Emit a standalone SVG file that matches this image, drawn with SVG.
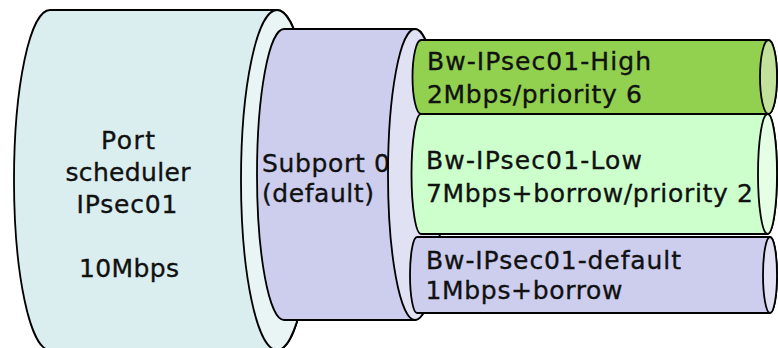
<svg xmlns="http://www.w3.org/2000/svg" width="778" height="348" viewBox="0 0 778 348">
  <style>
    .edge { stroke: #000; stroke-width: 1.8; stroke-linejoin: round; }
    .lbl { font-family: "DejaVu Sans", Verdana, sans-serif; font-size: 25px; fill: #111; stroke: #111; stroke-width: 0.35; }
    .mid { text-anchor: middle; }
    .port-body { fill: #DAEDEF; }
    .port-cap { fill: #E8F5F4; }
    .sub-body { fill: #CDCDED; }
    .sub-cap { fill: #E1E1F4; }
    .high-body { fill: #92D050; }
    .high-cap { fill: #C2E19A; }
    .low-body { fill: #CCFFCC; }
    .low-cap { fill: #E5FFE5; }
    .def-body { fill: #CDCDED; }
    .def-cap { fill: #E1E1F4; }
  </style>

  <!-- Port scheduler: large horizontal cylinder -->
  <g id="port">
    <path class="edge port-body" d="M50,10 L277,10 A36,170 0 0 1 277,350 L50,350 A36,170 0 0 1 50,10 Z"/>
    <ellipse class="edge port-cap" cx="277" cy="180" rx="36" ry="170"/>
    <text class="lbl mid" x="128" y="149" textLength="54" lengthAdjust="spacing">Port</text>
    <text class="lbl mid" x="128" y="181" textLength="125" lengthAdjust="spacing">scheduler</text>
    <text class="lbl mid" x="127" y="213" textLength="101" lengthAdjust="spacing">IPsec01</text>
    <text class="lbl mid" x="129" y="277" textLength="100" lengthAdjust="spacing">10Mbps</text>
  </g>

  <!-- Subport 0 cylinder; its end face is drawn over the label -->
  <g id="subport">
    <path class="edge sub-body" d="M284,29 L415,29 A27,145.5 0 0 1 415,320 L284,320 A27,145.5 0 0 1 284,29 Z"/>
    <text class="lbl" x="262" y="172" textLength="128" lengthAdjust="spacing">Subport 0</text>
    <text class="lbl" x="262" y="202" textLength="112" lengthAdjust="spacing">(default)</text>
    <ellipse class="edge sub-cap" cx="415" cy="174.5" rx="27" ry="145.5"/>
  </g>

  <!-- Traffic class pipes -->
  <g id="bw-default">
    <path class="edge def-body" d="M417,237 L770,237 A7,38 0 0 1 770,313 L417,313 A7,38 0 0 1 417,237 Z"/>
    <ellipse class="edge def-cap" cx="770" cy="275" rx="7" ry="38"/>
    <text class="lbl" x="426" y="268.5" textLength="255" lengthAdjust="spacing">Bw-IPsec01-default</text>
    <text class="lbl" x="425.5" y="298.5" textLength="197" lengthAdjust="spacing">1Mbps+borrow</text>
  </g>

  <g id="bw-low">
    <path class="edge low-body" d="M421,114 L767.5,114 A9.5,60 0 0 1 767.5,234 L421,234 A9.5,60 0 0 1 421,114 Z"/>
    <ellipse class="edge low-cap" cx="767.5" cy="174" rx="9.5" ry="60"/>
    <text class="lbl" x="426" y="169" textLength="216" lengthAdjust="spacing">Bw-IPsec01-Low</text>
    <text class="lbl" x="426" y="201.5" textLength="327" lengthAdjust="spacing">7Mbps+borrow/priority 2</text>
  </g>

  <g id="bw-high">
    <path class="edge high-body" d="M421,40 L768.5,40 A8.5,37 0 0 1 768.5,114 L421,114 A8.5,37 0 0 1 421,40 Z"/>
    <ellipse class="edge high-cap" cx="768.5" cy="77" rx="8.5" ry="37"/>
    <text class="lbl" x="427" y="69.5" textLength="224" lengthAdjust="spacing">Bw-IPsec01-High</text>
    <text class="lbl" x="427" y="102.5" textLength="215" lengthAdjust="spacing">2Mbps/priority 6</text>
  </g>

  <g id="connectors"/>
</svg>
